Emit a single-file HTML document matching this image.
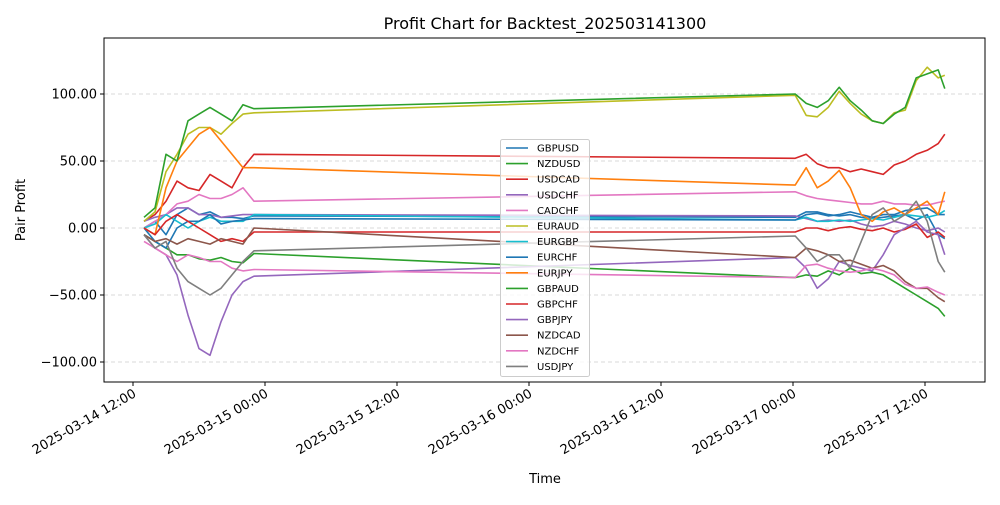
<!DOCTYPE html>
<html><head><meta charset="utf-8"><style>
body{margin:0;background:#fff;font-family:"Liberation Sans","DejaVu Sans",sans-serif}
svg text{font-family:"DejaVu Sans","Liberation Sans",sans-serif}
</style></head><body>
<svg id="c" width="1000" height="500" xmlns="http://www.w3.org/2000/svg">
<rect width="1000" height="500" fill="#fff"/>
<text x="545" y="29" font-size="16" text-anchor="middle">Profit Chart for Backtest_202503141300</text>
<text x="545" y="483" font-size="13" text-anchor="middle">Time</text>
<text transform="translate(25,210) rotate(-90)" font-size="13" text-anchor="middle">Pair Profit</text>
<g id="grid"></g><g id="series"></g><g id="axes"></g><g id="legend"></g>
</svg>
<script>
const tA=[1,2,3,4,5,6,7,8,9,10,11];
const tB=[60.2,61.2,62.2,63.2,64.2,65.2,66.2,67.2,68.2,69.2,70.2,71.2,72.2,73.2,73.8];
const names=["GBPUSD","NZDUSD","USDCAD","USDCHF","CADCHF","EURAUD","EURGBP","EURCHF","EURJPY","GBPAUD","GBPCHF","GBPJPY","NZDCAD","NZDCHF","USDJPY"];
const colors=["#1f77b4","#2ca02c","#d62728","#9467bd","#e377c2","#bcbd22","#17becf","#1f77b4","#ff7f0e","#2ca02c","#d62728","#9467bd","#8c564b","#e377c2","#7f7f7f"];
const GBPUSD=[0,5,-5,10,15,10,12,8,8,7,9, 8,12,12,10,9,10,8,7,8,9,10,6,10,-5,-8];
const NZDUSD=[-5,-10,-15,-20,-20,-23,-24,-22,-25,-26,-19, -37,-35,-36,-32,-35,-30,-34,-33,-35,-40,-45,-50,-55,-60,-66];
const USDCAD=[5,10,20,35,30,28,40,35,30,45,55, 52,55,48,45,45,42,44,42,40,47,50,55,58,63,70];
const USDCHF=[5,8,10,15,15,10,10,8,9,10,10, 9,7,5,6,5,6,3,1,2,5,3,0,-2,0,-3];
const CADCHF=[0,5,10,18,20,25,22,22,25,30,20, 27,24,22,21,20,19,18,18,20,18,18,17,17,19,20];
const EURAUD=[5,12,42,55,70,75,75,70,78,85,86, 99,84,83,90,102,93,85,80,78,86,88,110,120,112,114];
const EURGBP=[0,3,10,5,0,5,8,5,5,5,10, 6,8,5,5,6,5,6,7,6,8,10,9,8,10,13];
const EURCHF=[0,-10,-15,0,5,5,10,3,5,6,7, 6,10,11,9,10,12,10,8,10,10,13,14,15,10,10];
const EURJPY=[0,-5,30,50,60,70,75,65,55,45,45, 32,45,30,35,43,30,10,5,12,15,10,15,20,10,27];
const GBPAUD=[8,15,55,50,80,85,90,85,80,92,89, 100,93,90,95,105,95,88,80,78,85,90,112,115,118,104];
const GBPCHF=[0,-5,5,10,5,0,-5,-10,-8,-10,-3, -3,0,0,-2,0,1,-1,-2,0,-3,-1,3,-7,-3,-7];
const GBPJPY=[-5,-15,-20,-35,-65,-90,-95,-70,-50,-40,-36, -22,-30,-45,-38,-25,-28,-30,-32,-20,-5,0,5,-3,-5,-20];
const NZDCAD=[-5,-10,-8,-12,-8,-10,-12,-8,-10,-12,0, -22,-15,-17,-20,-25,-24,-27,-30,-28,-32,-40,-45,-45,-52,-55];
const NZDCHF=[-10,-15,-20,-25,-20,-22,-25,-25,-30,-32,-31, -37,-28,-27,-30,-32,-33,-32,-30,-32,-35,-42,-45,-44,-48,-50];
const USDJPY=[-5,-15,-10,-30,-40,-45,-50,-45,-35,-25,-17, -6,-15,-25,-20,-20,-30,-10,10,15,5,10,20,5,-25,-33];
const seriesVals=[GBPUSD,NZDUSD,USDCAD,USDCHF,CADCHF,EURAUD,EURGBP,EURCHF,EURJPY,GBPAUD,GBPCHF,GBPJPY,NZDCAD,NZDCHF,USDJPY];
const yTicks=[100,50,0,-50,-100];
const xTickHours=[0,12,24,36,48,60,72];
const xTickLabels=["2025-03-14 12:00","2025-03-15 00:00","2025-03-15 12:00","2025-03-16 00:00","2025-03-16 12:00","2025-03-17 00:00","2025-03-17 12:00"];

const NS="http://www.w3.org/2000/svg";
const L=104,R=985,T=38,B=382;
const xS=h=>133+h*11;
const yS=v=>228-v*1.34;
function mk(tag,attrs,parent){const e=document.createElementNS(NS,tag);for(const k in attrs)e.setAttribute(k,attrs[k]);parent.appendChild(e);return e;}
const grid=document.getElementById('grid'),ser=document.getElementById('series'),ax=document.getElementById('axes'),lg=document.getElementById('legend');
yTicks.forEach(v=>{
  const g=mk('line',{x1:L,x2:R,y1:yS(v),y2:yS(v),stroke:'#cccccc','stroke-dasharray':'4,3','stroke-width':0.8},grid);
  
  
  const t=mk('line',{x1:L-4,x2:L,y1:yS(v),y2:yS(v),stroke:'#000'},ax);
  
  
  const lb=mk('text',{x:L-7,y:yS(v)+4.5,'font-size':13,'text-anchor':'end'},ax);
  lb.textContent=(v<0?'\u2212'+Math.abs(v).toFixed(2):v.toFixed(2));
  
  
});
xTickHours.forEach((h,i)=>{
  const x=xS(h);
  const t=mk('line',{x1:x,x2:x,y1:B,y2:B+4,stroke:'#000'},ax);
  
  
  const lb=mk('text',{transform:`translate(${x+4},${B+14}) rotate(-30)`,'font-size':13,'text-anchor':'end'},ax);
  lb.textContent=xTickLabels[i];
  
  
});
const times=tA.concat(tB);
seriesVals.forEach((vals,i)=>{
  const d=vals.map((v,j)=>(j?'L':'M')+xS(times[j]).toFixed(1)+','+yS(v).toFixed(1)).join('');
  const p=mk('path',{d:d,fill:'none',stroke:colors[i],'stroke-width':1.6,'stroke-linejoin':'round'},ser);
  
  
});
const fr=mk('rect',{x:L,y:T,width:R-L,height:B-T,fill:'none',stroke:'#000','stroke-width':1},ax);


const box=mk('rect',{x:500.5,y:139.5,width:89,height:237,rx:2,fill:'#fff','fill-opacity':0.8,stroke:'#ccc'},lg);


names.forEach((n,i)=>{
  const y=148+i*15.6;
  const g=mk('g',{},lg);
  
  
  mk('line',{x1:506,x2:528,y1:y,y2:y,stroke:colors[i],'stroke-width':1.6},g);
  const t=mk('text',{x:537,y:y+3.5,'font-size':10},g);
  t.textContent=n;
});
</script>
</body></html>
